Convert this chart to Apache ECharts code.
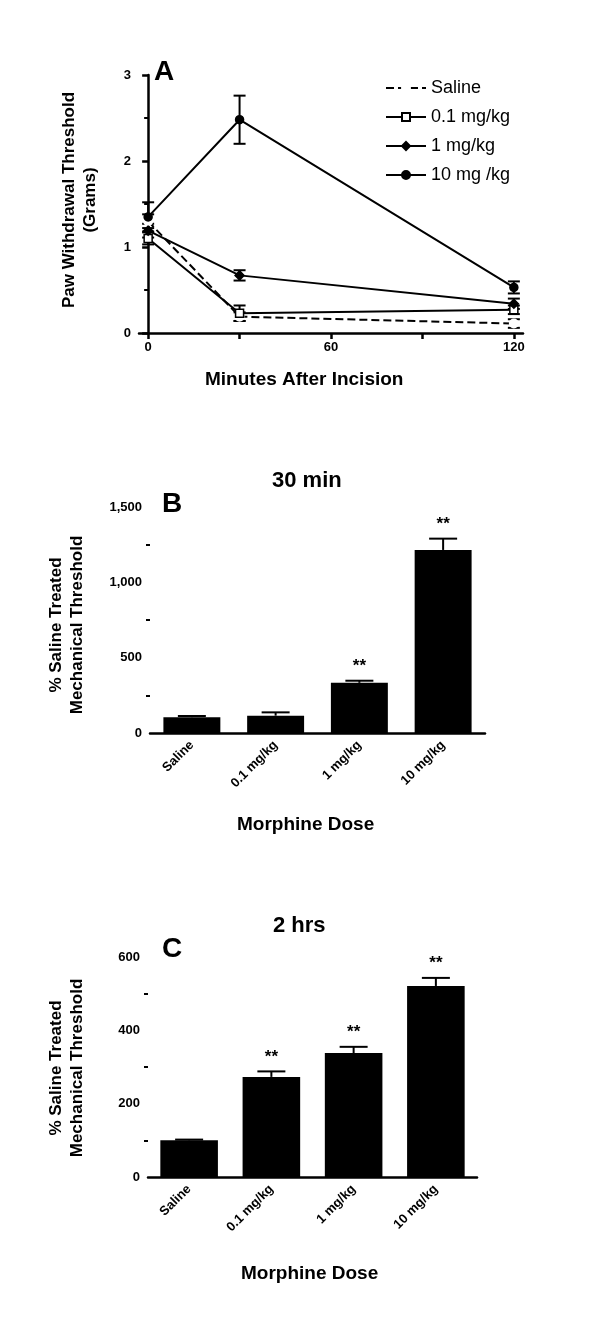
<!DOCTYPE html>
<html><head><meta charset="utf-8">
<script src="https://cdn.jsdelivr.net/npm/echarts@6/dist/echarts.min.js"></script>
<style>html,body{margin:0;padding:0;background:#fff}#c{width:600px;height:1323px}</style>
</head><body><div id="c"></div>
<script>
// Panel A
const timesA = [0, 30, 120];
const seriesNamesA = ['Saline', '0.1 mg/kg', '1 mg/kg', '10 mg /kg'];
const salineA = [1.30, 0.19, 0.11];
const salineErrA = [0.08, 0.05, 0.05];
const low01A = [1.10, 0.23, 0.27];
const low01ErrA = [0.07, 0.09, 0.05];
const mid1A = [1.19, 0.67, 0.34];
const mid1ErrA = [0.08, 0.06, 0.06];
const high10A = [1.35, 2.48, 0.53];
const high10ErrA = [0.17, 0.28, 0.07];
// Panel B
const doses = ['Saline', '0.1 mg/kg', '1 mg/kg', '10 mg/kg'];
const valuesB = [105, 115, 333, 1215];
const errB = [8, 22, 14, 75];
const starsB = ['', '', '**', '**'];
// Panel C
const valuesC = [100, 273, 338, 521];
const errC = [2, 15, 17, 22];
const starsC = ['', '**', '**', '**'];

const F = 'Liberation Sans, Arial, sans-serif';
const chart = echarts.init(document.getElementById('c'));
const axisL = {lineStyle:{color:'#000', width:2.5}};
const axisLab = {color:'#000', fontWeight:'bold', fontSize:13, fontFamily:F};

function lineSeries(name, data, sym, dashed, fill) {
  return {type:'line', name, xAxisIndex:0, yAxisIndex:0,
    data: timesA.map((t,i)=>[t,data[i]]),
    symbol: sym, symbolSize: sym==='diamond'?9:8,
    itemStyle:{color: fill?'#000':'#fff', borderColor:'#000', borderWidth:1.5},
    lineStyle:{color:'#000', width:2, type: dashed?'dashed':'solid'}, z:3};
}
function errA(data, err) {
  return {type:'custom', xAxisIndex:0, yAxisIndex:0, z:2, silent:true,
    data: timesA.map((t,i)=>[t,data[i],err[i]]),
    renderItem(p, api){
      const x=api.value(0), y=api.value(1), e=api.value(2);
      const a=api.coord([x,y+e]), b=api.coord([x,y-e]); const w=6;
      const st={stroke:'#000', lineWidth:2};
      return {type:'group', children:[
        {type:'line', shape:{x1:a[0],y1:a[1],x2:b[0],y2:b[1]}, style:st},
        {type:'line', shape:{x1:a[0]-w,y1:a[1],x2:a[0]+w,y2:a[1]}, style:st},
        {type:'line', shape:{x1:b[0]-w,y1:b[1],x2:b[0]+w,y2:b[1]}, style:st}]};
    }};
}
function barErr(xi, yi, vals, errs, stars, capW) {
  return {type:'custom', xAxisIndex:xi, yAxisIndex:yi, z:3, silent:true,
    data: vals.map((v,i)=>[i,v,errs[i],stars[i]]),
    renderItem(p, api){
      const i=api.value(0), v=api.value(1), e=api.value(2), s=doses.length?stars[i]:'';
      const a=api.coord([i,v]), b=api.coord([i,v+e]);
      const st={stroke:'#000', lineWidth:2};
      return {type:'group', children:[
        {type:'line', shape:{x1:a[0],y1:a[1],x2:b[0],y2:b[1]}, style:st},
        {type:'line', shape:{x1:b[0]-capW,y1:b[1],x2:b[0]+capW,y2:b[1]}, style:st},
        {type:'text', style:{text:s, x:b[0], y:b[1]-6, align:'center', verticalAlign:'bottom', font:'bold 17px '+F, fill:'#000'}}]};
    }};
}
const bigT = (t,x,y,size)=>({type:'text', left:x, top:y, style:{text:t, font:'bold '+size+'px '+F, fill:'#000'}});
const rotT = (t,x,y)=>({type:'text', x, y, rotation:Math.PI/2, style:{text:t, font:'bold 17px '+F, fill:'#000', align:'center', verticalAlign:'middle', lineHeight:21}});

chart.setOption({
  animation:false,
  legend:{left:380, top:74, orient:'vertical', itemGap:11, itemWidth:40, itemHeight:10,
    data: seriesNamesA, textStyle:{fontSize:18, fontFamily:F, color:'#000'}},
  grid:[
    {left:139, top:75, right:77, bottom:990},
    {left:150, top:507, right:115, bottom:590},
    {left:148, top:957, right:123, bottom:146}
  ],
  xAxis:[
    {type:'value', gridIndex:0, min:-3, max:123, axisLine:axisL, splitLine:{show:false},
     axisTick:{customValues:[0,30,60,90,120], length:6, lineStyle:{width:2.5}},
     axisLabel:Object.assign({customValues:[0,60,120], fontSize:14, margin:8}, axisLab)},
    {type:'category', gridIndex:1, data:doses, axisLine:axisL, axisTick:{alignWithLabel:true, length:6, lineStyle:{width:2.5}},
     axisLabel:Object.assign({rotate:45, margin:10, fontSize:11}, axisLab)},
    {type:'category', gridIndex:2, data:doses, axisLine:axisL, axisTick:{alignWithLabel:true, length:6, lineStyle:{width:2.5}},
     axisLabel:Object.assign({rotate:45, margin:10, fontSize:11}, axisLab)}
  ],
  yAxis:[
    {type:'value', gridIndex:0, min:0, max:3, interval:1, axisLine:axisL, splitLine:{show:false},
     axisTick:{length:6, lineStyle:{width:2.5}}, minorTick:{show:true, splitNumber:2, length:4, lineStyle:{color:'#000', width:2}},
     axisLabel:Object.assign({fontSize:14}, axisLab)},
    {type:'value', gridIndex:1, min:0, max:1500, interval:500, axisLine:axisL, splitLine:{show:false},
     axisTick:{length:6, lineStyle:{width:2.5}}, minorTick:{show:true, splitNumber:2, length:4, lineStyle:{color:'#000', width:2}},
     axisLabel:axisLab},
    {type:'value', gridIndex:2, min:0, max:600, interval:200, axisLine:axisL, splitLine:{show:false},
     axisTick:{length:6, lineStyle:{width:2.5}}, minorTick:{show:true, splitNumber:2, length:4, lineStyle:{color:'#000', width:2}},
     axisLabel:axisLab}
  ],
  series:[
    lineSeries(seriesNamesA[0], salineA, 'emptyCircle', true, false),
    lineSeries(seriesNamesA[1], low01A, 'rect', false, false),
    lineSeries(seriesNamesA[2], mid1A, 'diamond', false, true),
    lineSeries(seriesNamesA[3], high10A, 'circle', false, true),
    errA(salineA, salineErrA), errA(low01A, low01ErrA), errA(mid1A, mid1ErrA), errA(high10A, high10ErrA),
    {type:'bar', xAxisIndex:1, yAxisIndex:1, data:valuesB, barWidth:'68%', itemStyle:{color:'#000'}},
    barErr(1,1,valuesB,errB,starsB,14),
    {type:'bar', xAxisIndex:2, yAxisIndex:2, data:valuesC, barWidth:'70%', itemStyle:{color:'#000'}},
    barErr(2,2,valuesC,errC,starsC,14)
  ],
  graphic:[
    bigT('A',154,58,28), bigT('B',162,490,28), bigT('C',162,935,28),
    bigT('30 min',272,470,22), bigT('2 hrs',273,915,22),
    {type:'text', left:'center', top:370, style:{text:'Minutes After Incision', font:'bold 19px '+F, fill:'#000'}, left:205},
    {type:'text', left:237, top:815, style:{text:'Morphine Dose', font:'bold 19px '+F, fill:'#000'}},
    {type:'text', left:241, top:1264, style:{text:'Morphine Dose', font:'bold 19px '+F, fill:'#000'}},
    rotT('Paw Withdrawal Threshold\n(Grams)', 80, 200),
    rotT('% Saline Treated\nMechanical Threshold', 67, 625),
    rotT('% Saline Treated\nMechanical Threshold', 67, 1068)
  ]
});
</script></body></html>
